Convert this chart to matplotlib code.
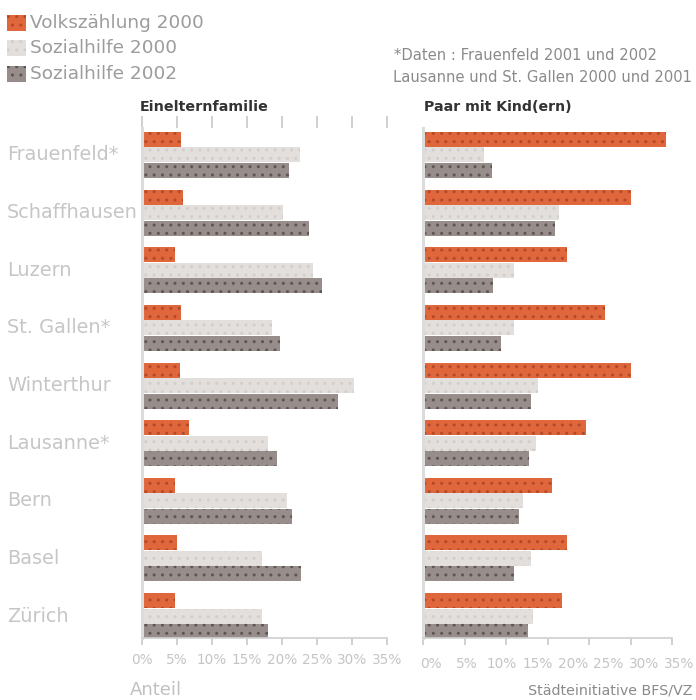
import numpy as np
import matplotlib
matplotlib.use("Agg")
import matplotlib.pyplot as plt

# data (percent)
staedte = ["Frauenfeld*", "Schaffhausen", "Luzern", "St. Gallen*", "Winterthur",
           "Lausanne*", "Bern", "Basel", "Zürich"]
serien = ["Volkszählung 2000", "Sozialhilfe 2000", "Sozialhilfe 2002"]

eltern_vz2000 = [5.6, 5.9, 4.8, 5.6, 5.5, 6.7, 4.8, 5.1, 4.8]
eltern_sh2000 = [22.6, 20.2, 24.4, 18.6, 30.3, 18.1, 20.7, 17.2, 17.2]
eltern_sh2002 = [21.1, 23.9, 25.8, 19.7, 28.1, 19.3, 21.5, 22.7, 18.0]

paar_vz2000 = [29.3, 25.1, 17.4, 21.9, 25.1, 19.6, 15.5, 17.3, 16.8]
paar_sh2000 = [7.3, 16.4, 11.0, 11.0, 13.8, 13.6, 12.0, 13.0, 13.3]
paar_sh2002 = [8.3, 15.9, 8.4, 9.4, 13.0, 12.8, 11.6, 11.0, 12.7]

tick_werte = [0, 5, 10, 15, 20, 25, 30, 35]
tick_labels = ["0%", "5%", "10%", "15%", "20%", "25%", "30%", "35%"]

farben = ["#e0663c", "#e2dfdc", "#978d8b"]
punkt_farben = ["#b04a2a", "#d2cecb", "#5f5654"]

W, H = 696, 700
fig = plt.figure(figsize=(W / 100, H / 100), dpi=100)
fig.patch.set_facecolor("white")


def px(x, y):
    return x / W, 1 - y / H


ax1 = fig.add_axes([141.7 / W, 1 - 638 / H, 245 / W, 510 / H])
ax2 = fig.add_axes([423 / W, 1 - 638 / H, 249 / W, 510 / H])

y = np.arange(len(staedte))
h = 0.269
for ax, werte in [(ax1, [eltern_vz2000, eltern_sh2000, eltern_sh2002]),
                  (ax2, [paar_vz2000, paar_sh2000, paar_sh2002])]:
    for k in range(3):
        ax.barh(y + (k - 1) * h, werte[k], height=h * 0.97, color=farben[k],
                edgecolor=punkt_farben[k], linewidth=0, hatch="..")
    ax.set_ylim(8.38, -0.468)
    ax.set_yticks([])
    for s in ["top", "right"]:
        ax.spines[s].set_visible(False)
    ax.spines["left"].set_color("#dcdcdc")
    ax.spines["left"].set_linewidth(2.2)
    ax.spines["bottom"].set_color("#d0d0d0")
    ax.spines["bottom"].set_linewidth(1.2)
    ax.tick_params(axis="x", colors="#c8c8c8", length=5, width=1.2,
                   labelsize=9.8, labelcolor="#c4c4c4", pad=6)

ax1.set_xticks(tick_werte)
ax1.set_xticklabels(tick_labels)
ax1.set_xlim(0, 35)
# tick marks on top of left panel
ax1.tick_params(axis="x", top=True, labeltop=False)
for t in ax1.xaxis.get_major_ticks():
    t.tick2line.set_markersize(9)
    t.tick2line.set_color("#d4d4d4")

ax2.set_xticks([0, 5, 10, 15, 20, 25, 30])
ax2.set_xticklabels([])
ax2.set_xlim(0, 30)
# labels of the right panel sit a bit apart from its ticks, as in the picture
for i, lab in enumerate(tick_labels):
    ax2.text(1.0 + 4.27 * i, -0.037, lab, transform=ax2.get_xaxis_transform(),
             fontsize=9.8, color="#c4c4c4", ha="center", va="top", clip_on=False)

# city labels
for i, s in enumerate(staedte):
    yy = ax1.transData.transform((0, i))[1]
    fig.text(7 / W, yy / H, s, fontsize=13.9, color="#c6c6c6",
             ha="left", va="center")

# panel titles
fig.text(*px(140, 107), "Einelternfamilie", fontsize=10.3, fontweight="bold",
         color="#333333", ha="left", va="center")
fig.text(*px(424, 107), "Paar mit Kind(ern)", fontsize=10.2, fontweight="bold",
         color="#333333", ha="left", va="center")

# legend
leg_y = [23, 48, 74]
for k in range(3):
    fig.patches.append(plt.Rectangle(px(7, leg_y[k] + 8), 19 / W, 16 / H,
                                     transform=fig.transFigure,
                                     facecolor=farben[k], edgecolor=punkt_farben[k],
                                     linewidth=0, hatch=".."))
    fig.text(*px(30, leg_y[k]), serien[k], fontsize=13.3, color="#9c9c9c",
             ha="left", va="center")

fig.text(*px(394, 55), "*Daten : Frauenfeld 2001 und 2002", fontsize=10.6,
         color="#8a8a8a", ha="left", va="center")
fig.text(*px(393, 77), "Lausanne und St. Gallen 2000 und 2001", fontsize=10.6,
         color="#8a8a8a", ha="left", va="center")

fig.text(*px(130, 690), "Anteil", fontsize=13, color="#c0c0c0",
         ha="left", va="center")
fig.text(*px(693, 690), "Städteinitiative BFS/VZ", fontsize=10.3,
         color="#8a8a8a", ha="right", va="center")

fig.savefig("out.png", dpi=100)
